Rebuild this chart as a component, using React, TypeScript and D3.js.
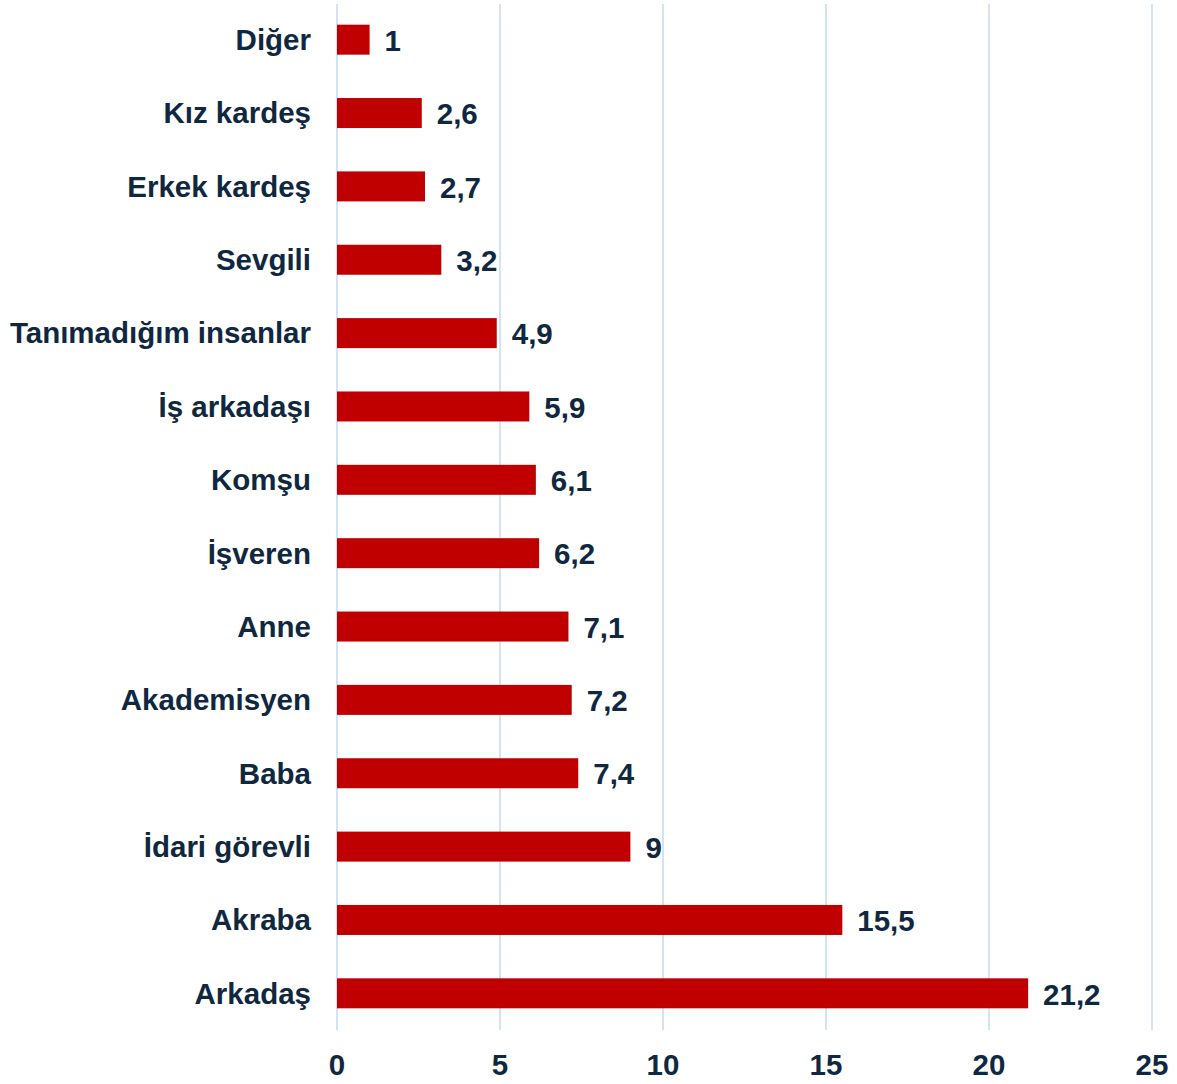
import React from "react";
import * as d3 from "d3";

const categories = [
  "Diğer",
  "Kız kardeş",
  "Erkek kardeş",
  "Sevgili",
  "Tanımadığım insanlar",
  "İş arkadaşı",
  "Komşu",
  "İşveren",
  "Anne",
  "Akademisyen",
  "Baba",
  "İdari görevli",
  "Akraba",
  "Arkadaş",
];
const values = [1, 2.6, 2.7, 3.2, 4.9, 5.9, 6.1, 6.2, 7.1, 7.2, 7.4, 9, 15.5, 21.2];
const xTicks = [0, 5, 10, 15, 20, 25];

const W = 1177;
const H = 1084;
const TEXT = "#10283f";
const BAR = "#c00000";
const GRID = "#c6daf1";
const FONT = "'Liberation Sans', Arial, sans-serif";

export default function App() {
  const x = d3.scaleLinear().domain([0, 25]).range([337, 1152]);
  const y = d3.scaleBand<string>().domain(categories).range([3, 1030]).padding(0);
  const barH = 30;
  const fmt = (v: number) => String(v).replace(".", ",");

  return (
    <svg
      width={W}
      height={H}
      style={{ position: "absolute", left: 0, top: 0, background: "#fff" }}
      fontFamily={FONT}
      fontWeight="bold"
    >
      {xTicks.map((t) => (
        <g key={t}>
          <line x1={x(t)} x2={x(t)} y1={4} y2={1030} stroke={GRID} strokeWidth={1.5} />
          <text x={x(t)} y={1075} textAnchor="middle" fontSize={29.5} fill={TEXT}>
            {t}
          </text>
        </g>
      ))}
      {categories.map((c, i) => {
        const cy = (y(c) as number) + y.bandwidth() / 2;
        return (
          <g key={c}>
            <rect
              x={x(0)}
              y={cy - barH / 2}
              width={x(values[i]) - x(0)}
              height={barH}
              fill={BAR}
            />
            <text
              x={311}
              y={cy}
              dy="0.35em"
              textAnchor="end"
              fontSize={29.5}
              fill={TEXT}
            >
              {c}
            </text>
            <text
              x={x(values[i]) + 15}
              y={cy}
              dy="0.38em"
              textAnchor="start"
              fontSize={29.5}
              fill={TEXT}
            >
              {fmt(values[i])}
            </text>
          </g>
        );
      })}
    </svg>
  );
}
